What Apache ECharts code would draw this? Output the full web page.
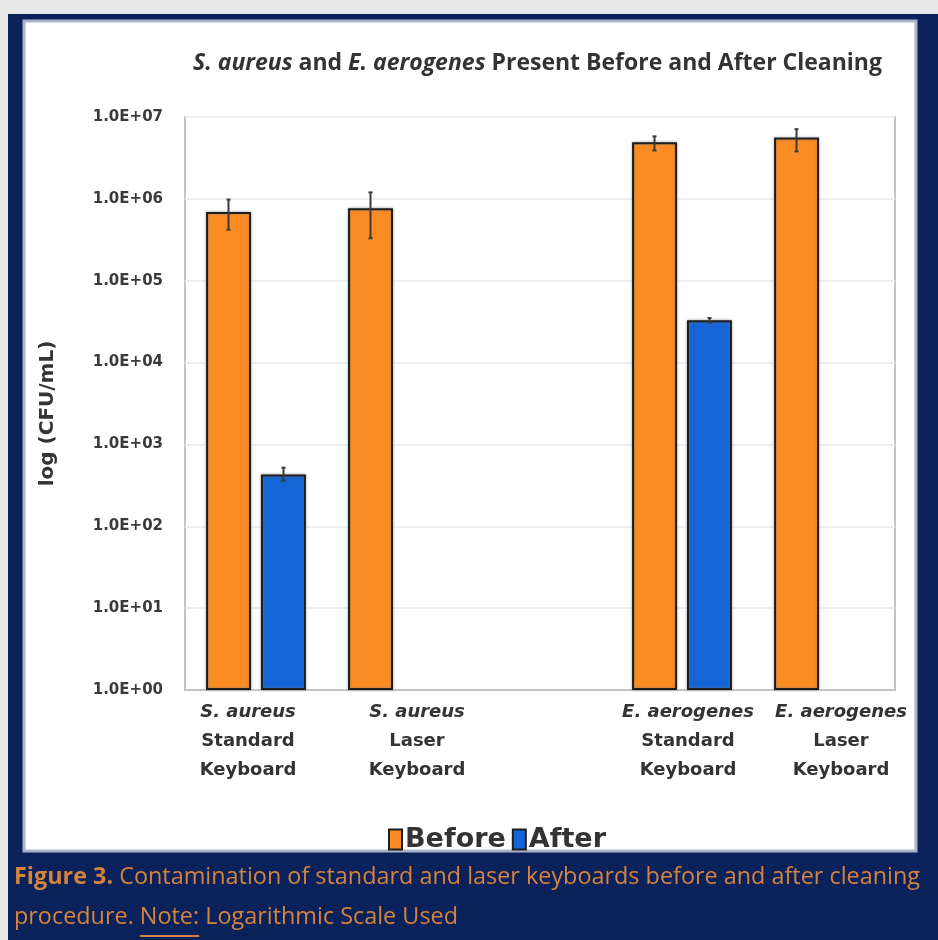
<!DOCTYPE html>
<html>
<head>
<meta charset="utf-8">
<script src="https://cdn.jsdelivr.net/npm/echarts@6/dist/echarts.min.js"></script>
<style>
  html, body { margin: 0; padding: 0; background: #e8e8e8; }
  #main { width: 938px; height: 940px; }
</style>
</head>
<body>
<div id="main"></div>
<script>
// chart data
var species = ['S. aureus', 'S. aureus', '', 'E. aerogenes', 'E. aerogenes'];
var keyboards = ['Standard', 'Laser', '', 'Standard', 'Laser'];
var beforeValues = [6.9e5, 7.7e5, null, 4.9e6, 5.6e6];
var afterValues = [430, null, null, 3.3e4, null];
var beforeLow = [4.2e5, 3.3e5, null, 3.9e6, 3.8e6];
var beforeHigh = [9.8e5, 1.2e6, null, 5.8e6, 7.1e6];
var afterLow = [360, null, null, 3.1e4, null];
var afterHigh = [520, null, null, 3.5e4, null];

// small horizontal nudge for each category label (px)
var labelShift = [-8, 19, 0, 6, 17];

var myChart = echarts.init(document.getElementById('main'));

var errData = [];
for (var i = 0; i < species.length; i++) {
    if (beforeLow[i] != null) errData.push([i, beforeLow[i], beforeHigh[i], 0]);
    if (afterLow[i] != null) errData.push([i, afterLow[i], afterHigh[i], 1]);
}

var rich = {};
for (var i = 0; i < species.length; i++) {
    var d = labelShift[i];
    var pad = d >= 0 ? [0, 0, 0, 2 * d] : [0, -2 * d, 0, 0];
    rich['s' + i] = { fontStyle: 'italic', fontWeight: 'bold', fontSize: 18, fontFamily: 'DejaVu Sans', color: '#333', lineHeight: 29, padding: pad };
    rich['k' + i] = { fontWeight: 'bold', fontSize: 18, fontFamily: 'DejaVu Sans', color: '#333', lineHeight: 29, padding: pad };
}

var navy = '#0b2159';
var captionColor = '#d4843e';
var captionFont = '23.4px "Open Sans"';

// measure the caption so "Note:" can be underlined
var ctx = document.createElement('canvas').getContext('2d');
ctx.font = captionFont;
var noteX = 14 + ctx.measureText('procedure. ').width;
var noteW = ctx.measureText('Note:').width;

option = {
    backgroundColor: '#e8e8e8',
    animation: false,
    title: {
        text: '{i|S. aureus} and {i|E. aerogenes} Present Before and After Cleaning',
        left: 188,
        top: 47,
        textStyle: {
            fontFamily: 'Open Sans',
            fontWeight: 'bold',
            fontSize: 23,
            color: '#333',
            rich: {
                i: { fontFamily: 'Open Sans', fontWeight: 'bold', fontStyle: 'italic', fontSize: 23, color: '#333' }
            }
        }
    },
    legend: {
        left: 383,
        top: 821,
        itemWidth: 13,
        itemHeight: 20,
        itemGap: 6,
        icon: 'rect',
        textStyle: { fontFamily: 'DejaVu Sans', fontWeight: 'bold', fontSize: 27, color: '#333', padding: [0, 0, 0, -2] },
        data: ['Before', 'After']
    },
    grid: {
        left: 185,
        right: 43,
        top: 117,
        bottom: 250,
        show: true,
        borderColor: '#c4c4c4',
        borderWidth: 2,
        backgroundColor: '#fff'
    },
    xAxis: {
        type: 'category',
        data: species,
        axisTick: { show: false },
        axisLine: { lineStyle: { color: '#c4c4c4', width: 2 } },
        axisLabel: {
            interval: 0,
            margin: 8,
            formatter: function (value, idx) {
                if (!value) return '';
                return '{s' + idx + '|' + value + '}\n{k' + idx + '|' + keyboards[idx] + '}\n{k' + idx + '|Keyboard}';
            },
            rich: rich
        }
    },
    yAxis: {
        type: 'log',
        logBase: 10,
        min: 1,
        max: 1e7,
        splitNumber: 7,
        name: 'log (CFU/mL)',
        nameLocation: 'middle',
        nameRotate: 90,
        nameGap: 127,
        nameTextStyle: { fontFamily: 'DejaVu Sans', fontWeight: 'bold', fontSize: 20, color: '#333', padding: [0, 20, 0, 0] },
        axisLine: { show: false },
        axisTick: { show: false },
        splitLine: { lineStyle: { color: '#eeeeee', width: 2 } },
        axisLabel: {
            margin: 22,
            fontFamily: 'DejaVu Sans',
            fontWeight: 'bold',
            fontSize: 15,
            color: '#3a3a3a',
            formatter: function (v) {
                var e = Math.round(Math.log(v) / Math.LN10);
                return '1.0E+' + (e < 10 ? '0' : '') + e;
            }
        }
    },
    series: [
        {
            name: 'Before',
            type: 'bar',
            barWidth: 45,
            barGap: '22%',
            data: beforeValues,
            itemStyle: {
                color: '#fb8c23',
                borderColor: '#1e1e1e',
                borderWidth: 2,
                shadowColor: 'rgba(110,120,140,0.6)',
                shadowBlur: 3
            }
        },
        {
            name: 'After',
            type: 'bar',
            barWidth: 45,
            data: afterValues,
            itemStyle: {
                color: '#1565d6',
                borderColor: '#1e1e1e',
                borderWidth: 2,
                shadowColor: 'rgba(110,120,140,0.6)',
                shadowBlur: 3
            }
        },
        {
            name: 'errors',
            type: 'custom',
            z: 5,
            encode: { x: 0, y: [1, 2] },
            data: errData,
            renderItem: function (params, api) {
                var cat = api.value(0);
                var lo = api.coord([cat, api.value(1)]);
                var hi = api.coord([cat, api.value(2)]);
                var off = api.value(3) === 0 ? -27.5 : 27.5;
                var x = lo[0] + off;
                var st = { stroke: '#3a3a3a', lineWidth: 2 };
                return {
                    type: 'group',
                    children: [
                        { type: 'line', shape: { x1: x, y1: hi[1], x2: x, y2: lo[1] }, style: st },
                        { type: 'line', shape: { x1: x - 2, y1: hi[1], x2: x + 2, y2: hi[1] }, style: st },
                        { type: 'line', shape: { x1: x - 2, y1: lo[1], x2: x + 2, y2: lo[1] }, style: st }
                    ]
                };
            }
        }
    ],
    graphic: [
        { type: 'rect', z: -10, shape: { x: 8, y: 14, width: 930, height: 926 }, style: { fill: navy } },
        { type: 'rect', z: -9, shape: { x: 24, y: 21, width: 892, height: 830 }, style: { fill: '#fff', stroke: '#a9b3c8', lineWidth: 3 } },
        {
            type: 'text', z: 10, left: 14, top: 866,
            style: {
                text: '{b|Figure 3.} Contamination of standard and laser keyboards before and after cleaning',
                fill: captionColor,
                font: captionFont,
                rich: { b: { fontWeight: 'bold', fontFamily: 'Open Sans', fontSize: 23.4, fill: captionColor } }
            }
        },
        {
            type: 'text', z: 10, left: 14, top: 906,
            style: {
                text: 'procedure. Note: Logarithmic Scale Used',
                fill: captionColor,
                font: captionFont
            }
        },
        {
            type: 'line', z: 10,
            shape: { x1: noteX, y1: 936, x2: noteX + noteW, y2: 936 },
            style: { stroke: captionColor, lineWidth: 2 }
        }
    ]
};
myChart.setOption(option);
</script>
</body>
</html>
